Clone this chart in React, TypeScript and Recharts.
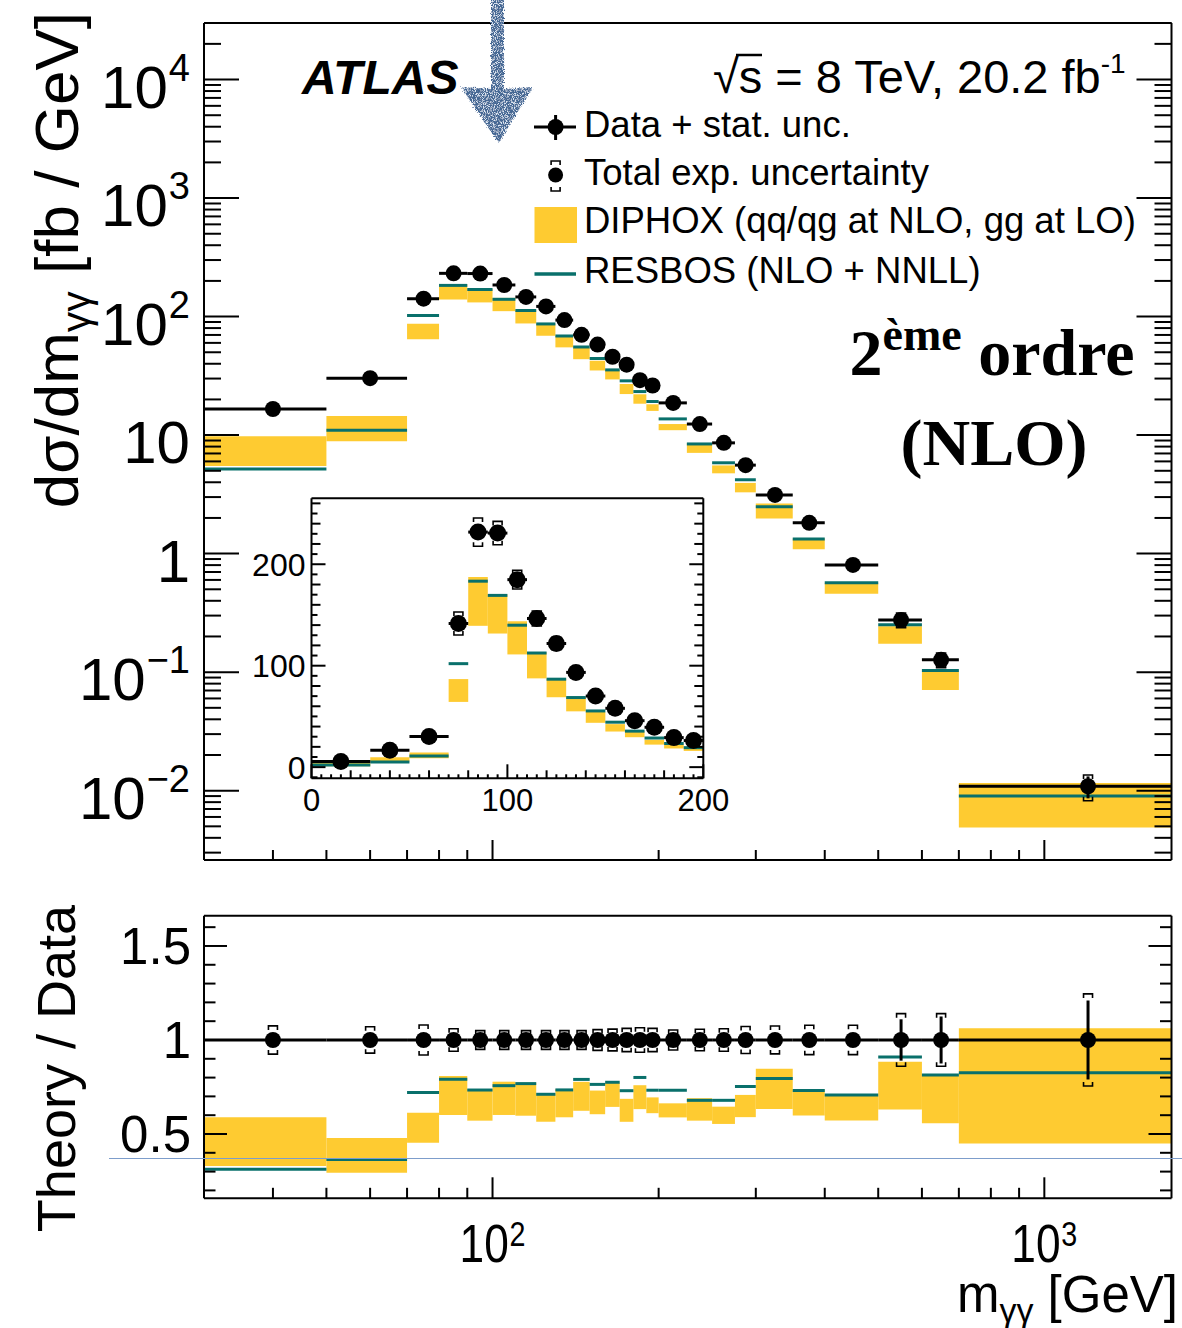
import React from "react";
import {
  ComposedChart,
  ReferenceArea,
  ReferenceLine,
  Scatter,
  XAxis,
  YAxis,
} from "recharts";

const SANS = "'Liberation Sans', Arial, Helvetica, sans-serif";
const SERIF = "'Liberation Serif', 'Times New Roman', serif";
const YELLOW = "#fecb31";
const TEAL = "#09706b";
const INK = "#000";

// m_yy bin edges [GeV]
const binEdges = [
  0, 30, 50, 70, 80, 90, 100, 110, 120, 130, 140, 150, 160, 170, 180, 190, 200,
  225, 250, 275, 300, 350, 400, 500, 600, 700, 1700,
];

// measured dsigma/dm [fb/GeV]
const dataXsec = [
  5.5, 16.6, 30.2, 141.6, 231.7, 230.7, 184.8, 146.5, 121.9, 93.4, 70.1, 58.0,
  45.8, 39.3, 29.1, 26.2, 18.7, 12.4, 8.6, 5.58, 3.13, 1.82, 0.803, 0.276,
  0.127, 0.0109,
];

// relative uncertainties on the data
const statUnc = [
  0.01, 0.01, 0.01, 0.01, 0.01, 0.01, 0.01, 0.01, 0.01, 0.01, 0.01, 0.012,
  0.012, 0.014, 0.015, 0.016, 0.015, 0.018, 0.02, 0.025, 0.025, 0.03, 0.035,
  0.11, 0.125, 0.21,
];
const totalUnc = [
  0.08, 0.075, 0.07, 0.08, 0.06, 0.05, 0.05, 0.05, 0.05, 0.05, 0.05, 0.055,
  0.058, 0.062, 0.065, 0.062, 0.053, 0.057, 0.06, 0.072, 0.074, 0.078, 0.078,
  0.14, 0.14, 0.245,
];

// DIPHOX band (lower / upper edge) [fb/GeV]
const diphoxLow = [
  1.0, 5.48, 8.88, 64.3, 139.3, 131.7, 111.1, 87.5, 68.9, 55.0, 43.7, 35.1,
  29.5, 22.2, 18.4, 16.0, 11.0, 7.08, 4.76, 3.29, 1.98, 1.09, 0.459, 0.174,
  0.0707, 0.0049,
];
const diphoxHigh = [
  4.5, 9.78, 14.47, 86.8, 187.4, 170.3, 143.8, 113.2, 87.3, 68.9, 54.5, 42.4,
  35.4, 27.0, 22.1, 18.2, 12.4, 8.56, 5.55, 3.95, 2.65, 1.34, 0.568, 0.244,
  0.1034, 0.01158,
];

// RESBOS central value [fb/GeV]
const resbos = [
  2.0, 5.18, 11.0, 102.0, 183.3, 169.3, 139.9, 112.5, 86.7, 68.6, 55.4, 44.3,
  35.5, 28.7, 23.3, 19.2, 13.7, 8.42, 5.84, 4.2, 2.49, 1.33, 0.568, 0.251,
  0.1034, 0.009,
];

// axis ticks
const massTicks = [40, 50, 60, 70, 80, 90, 100, 200, 300, 400, 500, 600, 700, 800, 900, 1000];
const xsecDecades = [0.001, 0.01, 0.1, 1, 10, 100, 1000, 10000];
const ratioTicks = [0.2, 0.3, 0.4, 0.5, 0.6, 0.7, 0.8, 0.9, 1.0, 1.1, 1.2, 1.3, 1.4, 1.5, 1.6];
const ratioLabels = [0.5, 1, 1.5];
const insetLabels = [0, 100, 200];

const MASS_DOMAIN: [number, number] = [30, 1700];
const XSEC_DOMAIN: [number, number] = [0.0026, 30000];
const RATIO_DOMAIN: [number, number] = [0.158, 1.661];
const INSET_X: [number, number] = [0, 200];
const INSET_Y: [number, number] = [-11, 265];

const xsecTicks = xsecDecades
  .flatMap((d) => [1, 2, 3, 4, 5, 6, 7, 8, 9].map((m) => +(m * d).toPrecision(3)))
  .filter((v) => v >= XSEC_DOMAIN[0] && v <= XSEC_DOMAIN[1]);
const insetXTicks = Array.from({ length: 41 }, (_, i) => i * 5);
const insetYTicks = Array.from({ length: 28 }, (_, i) => -10 + i * 10);

interface Bin {
  lo: number;
  hi: number;
  x: number;
  v: number;
  stat: number;
  tot: number;
  dLo: number;
  dHi: number;
  res: number;
}

const bins: Bin[] = dataXsec.map((v, i) => ({
  lo: binEdges[i],
  hi: binEdges[i + 1],
  x: (binEdges[i] + binEdges[i + 1]) / 2,
  v,
  stat: statUnc[i],
  tot: totalUnc[i],
  dLo: diphoxLow[i],
  dHi: diphoxHigh[i],
  res: resbos[i],
}));
const mainBins = bins.filter((b) => b.lo >= MASS_DOMAIN[0]);
const insetBins = bins.filter((b) => b.hi <= INSET_X[1]);

type Side = "left" | "right" | "top" | "bottom";

function Mark({ side, x, y, len }: { side: Side; x: number; y: number; len: number }) {
  const dx = side === "left" ? len : side === "right" ? -len : 0;
  const dy = side === "top" ? len : side === "bottom" ? -len : 0;
  return <line x1={x} y1={y} x2={x + dx} y2={y + dy} stroke={INK} strokeWidth={2} />;
}

const isDecade = (v: number) => {
  const l = Math.log10(v);
  return Math.abs(l - Math.round(l)) < 1e-6;
};

// ---------- tick renderers (ticks point into the frame, ROOT style)

const logTick = (side: Side, major: number, minor: number) => (p: any) => (
  <g>
    <Mark side={side} x={p.x} y={p.y} len={isDecade(p.payload.value) ? major : minor} />
  </g>
);

const xsecLabelTick = (p: any) => {
  const v = p.payload.value;
  const major = isDecade(v);
  const k = Math.round(Math.log10(v));
  return (
    <g>
      <Mark side="left" x={p.x} y={p.y} len={major ? 35 : 17} />
      {major && (
        <text x={p.x - 14} y={p.y + 28} textAnchor="end" fontSize={60} fontFamily={SANS} fill={INK}>
          {k === 0 ? "1" : "10"}
          {k !== 0 && k !== 1 && (
            <tspan dx={1} dy={-27} fontSize={38}>
              {k < 0 ? `\u2212${-k}` : `${k}`}
            </tspan>
          )}
        </text>
      )}
    </g>
  );
};

const massLabelTick = (p: any) => {
  const v = p.payload.value;
  const major = isDecade(v);
  const k = Math.round(Math.log10(v));
  return (
    <g>
      <Mark side="bottom" x={p.x} y={p.y} len={major ? 21 : 10.5} />
      {major && (
        <g transform={`translate(${p.x},${p.y + 64}) scale(0.82,1)`}>
          <text textAnchor="middle" fontSize={54} fontFamily={SANS} fill={INK}>
            10
            <tspan dx={1} dy={-16} fontSize={35}>
              {k}
            </tspan>
          </text>
        </g>
      )}
    </g>
  );
};

const ratioTick = (side: Side, labelled: boolean) => (p: any) => {
  const v = p.payload.value;
  const major = ratioLabels.some((r) => Math.abs(r - v) < 1e-6);
  return (
    <g>
      <Mark side={side} x={p.x} y={p.y} len={major ? 23 : 11.5} />
      {labelled && major && (
        <text x={p.x - 13} y={p.y + 18} textAnchor="end" fontSize={51} fontFamily={SANS} fill={INK}>
          {v === 1 ? "1" : String(v)}
        </text>
      )}
    </g>
  );
};

const insetXTick = (side: Side, labelled: boolean) => (p: any) => {
  const v = p.payload.value;
  const len = v % 100 === 0 ? 14 : v % 20 === 0 ? 8 : 4;
  return (
    <g>
      <Mark side={side} x={p.x} y={p.y} len={len} />
      {labelled && insetLabels.includes(v) && (
        <text x={p.x} y={p.y + 33} textAnchor="middle" fontSize={31} fontFamily={SANS} fill={INK}>
          {v}
        </text>
      )}
    </g>
  );
};

const insetYTick = (side: Side, labelled: boolean) => (p: any) => {
  const v = p.payload.value;
  const len = v % 100 === 0 ? 14 : v % 20 === 0 ? 9 : 6;
  return (
    <g>
      <Mark side={side} x={p.x} y={p.y} len={len} />
      {labelled && insetLabels.includes(v) && (
        <text x={p.x - 6} y={p.y + 11.5} textAnchor="end" fontSize={32} fontFamily={SANS} fill={INK}>
          {v}
        </text>
      )}
    </g>
  );
};

// ---------- marker shapes

const dot = (r: number) => (p: any) => <circle cx={p.cx} cy={p.cy} r={r} fill={INK} />;
const capTop = (p: any) => (
  <path
    d={`M${p.cx - 4.5},${p.cy + 4} V${p.cy} H${p.cx + 4.5} V${p.cy + 4}`}
    fill="none"
    stroke={INK}
    strokeWidth={1.6}
  />
);
const capBottom = (p: any) => (
  <path
    d={`M${p.cx - 4.5},${p.cy - 4} V${p.cy} H${p.cx + 4.5} V${p.cy - 4}`}
    fill="none"
    stroke={INK}
    strokeWidth={1.6}
  />
);

// bands, RESBOS steps, data bars, stat bars, brackets and points for one panel
function panelMarks(list: Bin[], ratio: boolean, r: number, id: string) {
  const norm = (b: Bin) => (ratio ? b.v : 1);
  const mid = (b: Bin) => (ratio ? 1 : b.v);
  const out: React.ReactNode[] = [];
  list.forEach((b) =>
    out.push(
      <ReferenceArea
        key={`${id}-band-${b.lo}`}
        x1={b.lo}
        x2={b.hi}
        y1={b.dLo / norm(b)}
        y2={b.dHi / norm(b)}
        fill={YELLOW}
        fillOpacity={1}
        stroke="none"
        ifOverflow="visible"
      />
    )
  );
  list.forEach((b) =>
    out.push(
      <ReferenceLine
        key={`${id}-res-${b.lo}`}
        segment={[
          { x: b.lo, y: b.res / norm(b) },
          { x: b.hi, y: b.res / norm(b) },
        ]}
        stroke={TEAL}
        strokeWidth={3}
        ifOverflow="visible"
      />
    )
  );
  list.forEach((b) =>
    out.push(
      <ReferenceLine
        key={`${id}-bar-${b.lo}`}
        segment={[
          { x: b.lo, y: mid(b) },
          { x: b.hi, y: mid(b) },
        ]}
        stroke={INK}
        strokeWidth={3}
        ifOverflow="visible"
      />
    )
  );
  list.forEach((b) =>
    out.push(
      <ReferenceLine
        key={`${id}-stat-${b.lo}`}
        segment={[
          { x: b.x, y: mid(b) * (1 - b.stat) },
          { x: b.x, y: mid(b) * (1 + b.stat) },
        ]}
        stroke={INK}
        strokeWidth={3}
        ifOverflow="visible"
      />
    )
  );
  out.push(
    <Scatter
      key={`${id}-cap-up`}
      data={list.map((b) => ({ x: b.x, y: mid(b) * (1 + b.tot) }))}
      dataKey="y"
      shape={capTop}
      isAnimationActive={false}
    />,
    <Scatter
      key={`${id}-cap-down`}
      data={list.map((b) => ({ x: b.x, y: mid(b) * (1 - b.tot) }))}
      dataKey="y"
      shape={capBottom}
      isAnimationActive={false}
    />,
    <Scatter
      key={`${id}-pts`}
      data={list.map((b) => ({ x: b.x, y: mid(b) }))}
      dataKey="y"
      shape={dot(r)}
      isAnimationActive={false}
    />
  );
  return out;
}

// every axis is 1px thick so it still renders; margins are reduced by that pixel
const frame = { stroke: INK, strokeWidth: 2 };
const bare = {
  type: "number" as const,
  allowDataOverflow: true,
  tickLine: false,
  tickSize: 0,
  tickMargin: 0,
  interval: 0 as const,
  axisLine: frame,
};

function CrossSectionPanel() {
  return (
    <ComposedChart width={1182} height={880} margin={{ top: 22, right: 9.5, bottom: 19, left: 203 }}>
      <XAxis dataKey="x" scale="log" domain={MASS_DOMAIN} ticks={massTicks} height={1} {...bare} tick={logTick("bottom", 20, 10)} />
      <XAxis xAxisId="top" orientation="top" scale="log" domain={MASS_DOMAIN} ticks={massTicks} height={1} {...bare} tick={logTick("top", 20, 10)} />
      <YAxis dataKey="y" scale="log" domain={XSEC_DOMAIN} ticks={xsecTicks} width={1} {...bare} tick={xsecLabelTick} />
      <YAxis yAxisId="r" orientation="right" scale="log" domain={XSEC_DOMAIN} ticks={xsecTicks} width={1} {...bare} tick={logTick("right", 35, 17)} />
      {panelMarks(mainBins, false, 8, "main")}
    </ComposedChart>
  );
}

function RatioPanel() {
  return (
    <ComposedChart width={1182} height={448} margin={{ top: 34.7, right: 9.5, bottom: 128.7, left: 203 }}>
      <XAxis dataKey="x" scale="log" domain={MASS_DOMAIN} ticks={massTicks} height={1} {...bare} tick={massLabelTick} />
      <XAxis xAxisId="top" orientation="top" scale="log" domain={MASS_DOMAIN} ticks={massTicks} height={1} {...bare} tick={logTick("top", 21, 10.5)} />
      <YAxis dataKey="y" domain={RATIO_DOMAIN} ticks={ratioTicks} width={1} {...bare} tick={ratioTick("left", true)} />
      <YAxis yAxisId="r" orientation="right" domain={RATIO_DOMAIN} ticks={ratioTicks} width={1} {...bare} tick={ratioTick("right", false)} />
      {panelMarks(mainBins, true, 8, "ratio")}
    </ComposedChart>
  );
}

function InsetPanel() {
  return (
    <ComposedChart width={480} height={370} margin={{ top: 27.3, right: 25.7, bottom: 60.7, left: 60.5 }}>
      <XAxis dataKey="x" domain={INSET_X} ticks={insetXTicks} height={1} {...bare} tick={insetXTick("bottom", true)} />
      <XAxis xAxisId="top" orientation="top" domain={INSET_X} ticks={insetXTicks} height={1} {...bare} tick={insetXTick("top", false)} />
      <YAxis dataKey="y" domain={INSET_Y} ticks={insetYTicks} width={1} {...bare} tick={insetYTick("left", true)} />
      <YAxis yAxisId="r" orientation="right" domain={INSET_Y} ticks={insetYTicks} width={1} {...bare} tick={insetYTick("right", false)} />
      {panelMarks(insetBins, false, 8.5, "inset")}
    </ComposedChart>
  );
}

// titles, legend and the annotations drawn over the figure
function Overlay() {
  return (
    <svg
      width={1182}
      height={1328}
      style={{ position: "absolute", left: 0, top: 0, pointerEvents: "none" }}
      fontFamily={SANS}
    >
      <defs>
        <filter id="spray" x="-20%" y="-5%" width="140%" height="110%">
          <feTurbulence type="fractalNoise" baseFrequency="0.9" numOctaves="2" seed="4" result="noise" />
          <feDisplacementMap in="SourceGraphic" in2="noise" scale="5" xChannelSelector="R" yChannelSelector="G" result="rough" />
          <feTurbulence type="fractalNoise" baseFrequency="1.1" numOctaves="1" seed="9" result="fine" />
          <feColorMatrix in="fine" type="matrix" values="0 0 0 0 0.75  0 0 0 0 0.82  0 0 0 0 0.92  0 0 0 -5 2.6" result="speck" />
          <feComposite in="speck" in2="rough" operator="in" result="speckIn" />
          <feMerge>
            <feMergeNode in="rough" />
            <feMergeNode in="speckIn" />
          </feMerge>
        </filter>
      </defs>

      {/* axis titles */}
      <text transform="translate(78,12) rotate(-90)" textAnchor="end" fontSize={62} fill={INK}>
        dσ/dm
        <tspan dy={12} fontSize={41}>
          γγ
        </tspan>
        <tspan dy={-12}> [fb / GeV]</tspan>
      </text>
      <text transform="translate(75,905) rotate(-90)" textAnchor="end" fontSize={54} fill={INK}>
        Theory / Data
      </text>
      <text x={1178} y={1312} textAnchor="end" fontSize={51} fill={INK}>
        m
        <tspan dy={10} fontSize={34}>
          γγ
        </tspan>
        <tspan dy={-10}> [GeV]</tspan>
      </text>

      {/* experiment label */}
      <text x={302} y={94} fontSize={48} fontWeight="bold" fontStyle="italic" fill={INK}>
        ATLAS
      </text>
      <text x={713} y={93} fontSize={47} fill={INK}>
        √s = 8 TeV, 20.2 fb
        <tspan dy={-20} fontSize={28}>
          -1
        </tspan>
      </text>
      <line x1={736} y1={55} x2={762} y2={55} stroke={INK} strokeWidth={2.5} />

      {/* legend */}
      <line x1={534} y1={127} x2={576} y2={127} stroke={INK} strokeWidth={3} />
      <line x1={555.6} y1={115} x2={555.6} y2={140} stroke={INK} strokeWidth={3} />
      <circle cx={555.6} cy={127} r={8} fill={INK} />
      <text x={584} y={137} fontSize={36.5} fill={INK}>
        Data + stat. unc.
      </text>

      <circle cx={555.6} cy={175} r={7.5} fill={INK} />
      <path d="M551.1,165 V161 H560.1 V165" fill="none" stroke={INK} strokeWidth={1.6} />
      <path d="M551.1,187 V191 H560.1 V187" fill="none" stroke={INK} strokeWidth={1.6} />
      <text x={584} y={185} fontSize={36.5} fill={INK}>
        Total exp. uncertainty
      </text>

      <rect x={534.5} y={207} width={42.5} height={36} fill={YELLOW} />
      <text x={584} y={233} fontSize={36.5} fill={INK}>
        DIPHOX (qq/qg at NLO, gg at LO)
      </text>

      <line x1={534.5} y1={274} x2={576} y2={274} stroke={TEAL} strokeWidth={3.5} />
      <text x={584} y={283} fontSize={36.5} fill={INK}>
        RESBOS (NLO + NNLL)
      </text>

      {/* order annotation */}
      <text x={992} y={375} textAnchor="middle" fontFamily={SERIF} fontWeight="bold" fontSize={66} fill={INK}>
        2
        <tspan dy={-25} fontSize={46}>
          ème
        </tspan>
        <tspan dy={25}> ordre</tspan>
      </text>
      <text x={994} y={465} textAnchor="middle" fontFamily={SERIF} fontWeight="bold" fontSize={66} fill={INK}>
        (NLO)
      </text>

      {/* hand-drawn arrow and guide line */}
      <path
        d="M491,-4 L504,-4 L504,89 L533,87 L498.5,143 L461,87 L491,89 Z"
        fill="#456894"
        filter="url(#spray)"
      />
      <line x1={109} y1={1158.5} x2={1182} y2={1158.5} stroke="#7d9dcb" strokeWidth={1.2} />
    </svg>
  );
}

export default function App() {
  return (
    <div
      style={{
        position: "absolute",
        left: 0,
        top: 0,
        width: 1182,
        height: 1328,
        background: "#fff",
        fontFamily: SANS,
        overflow: "hidden",
      }}
    >
      <div style={{ position: "absolute", left: 0, top: 0 }}>
        <CrossSectionPanel />
      </div>
      <div style={{ position: "absolute", left: 250, top: 470 }}>
        <InsetPanel />
      </div>
      <div style={{ position: "absolute", left: 0, top: 880 }}>
        <RatioPanel />
      </div>
      <Overlay />
    </div>
  );
}
